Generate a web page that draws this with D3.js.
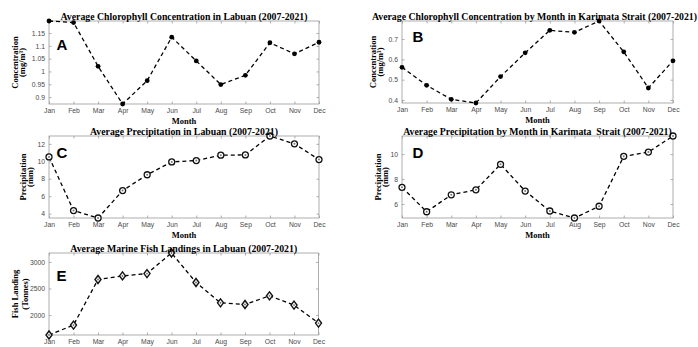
<!DOCTYPE html>
<html>
<head>
<meta charset="utf-8">
<script src="https://cdn.jsdelivr.net/npm/d3@7/dist/d3.min.js"></script>
<style>
  html, body { margin: 0; padding: 0; background: #fff; }
  svg { display: block; }
</style>
</head>
<body>
<svg id="chart" width="698" height="347"></svg>
<script>
// Monthly climatology, 2007-2021
const months = ["Jan","Feb","Mar","Apr","May","Jun","Jul","Aug","Sep","Oct","Nov","Dec"];

const chlLabuan      = [1.197, 1.191, 1.020, 0.873, 0.964, 1.134, 1.041, 0.949, 0.985, 1.112, 1.069, 1.114];
const chlKarimata    = [0.561, 0.472, 0.403, 0.385, 0.515, 0.632, 0.743, 0.733, 0.789, 0.637, 0.459, 0.593];
const precipLabuan   = [10.5, 4.35, 3.5, 6.64, 8.46, 9.93, 10.08, 10.7, 10.73, 12.9, 12.0, 10.2];
const precipKarimata = [7.34, 5.38, 6.74, 7.14, 9.18, 7.04, 5.44, 4.88, 5.82, 9.82, 10.16, 11.45];
const fishLabuan     = [1625, 1812, 2670, 2737, 2782, 3169, 2614, 2231, 2200, 2362, 2188, 1850];

const ticksChlLabuan      = ["0.9", "0.95", "1", "1.05", "1.1", "1.15"];
const ticksChlKarimata    = ["0.4", "0.5", "0.6", "0.7"];
const ticksPrecipLabuan   = ["4", "6", "8", "10", "12"];
const ticksPrecipKarimata = ["6", "8", "10"];
const ticksFishLabuan     = ["2000", "2500", "3000"];

const W = 698;
const svg = d3.select("#chart");

const panels = [
  { letter: "A", values: chlLabuan, ticks: ticksChlLabuan, marker: "dot",
    title: "Average Chlorophyll Concentration in Labuan (2007-2021)",
    ylabel: ["Concentration", "(mg/m\u00B3)"], ylabelX: [15.5, 22],
    box: [49, 21, 319, 104], xlabel: true, letterPos: [56.5, 50] },
  { letter: "B", values: chlKarimata, ticks: ticksChlKarimata, marker: "dot",
    title: "Average Chlorophyll Concentration by Month in Karimata Strait (2007-2021)",
    ylabel: ["Concentration", "(mg/m\u00B3)"], ylabelX: [373.5, 380],
    box: [402, 21, 673, 103], xlabel: true, letterPos: [412.5, 41.7] },
  { letter: "C", values: precipLabuan, ticks: ticksPrecipLabuan, marker: "circle",
    title: "Average Precipitation in Labuan (2007-2021)",
    ylabel: ["Precipitation", "(mm)"], ylabelX: [23, 30.5],
    box: [49, 136, 319, 218], xlabel: true, letterPos: [56.5, 158] },
  { letter: "D", values: precipKarimata, ticks: ticksPrecipKarimata, marker: "circle",
    title: "Average Precipitation by Month in Karimata\u00A0 Strait (2007-2021)",
    ylabel: ["Precipitation", "(mm)"], ylabelX: [378.5, 385],
    box: [402, 136, 673, 218], xlabel: true, letterPos: [412.5, 158] },
  { letter: "E", values: fishLabuan, ticks: ticksFishLabuan, marker: "diamond",
    title: "Average Marine Fish Landings in Labuan (2007-2021)",
    ylabel: ["Fish Landing", "(Tonnes)"], ylabelX: [15.5, 25],
    box: [49, 253, 318.5, 335], xlabel: false, letterPos: [56.5, 281] }
];

const axisColor = "#9a9a9a";
const tickTextColor = "#4a4a4a";
const serif = "'Liberation Serif', 'Times New Roman', serif";
const sans = "'Liberation Sans', Arial, sans-serif";

panels.forEach(p => {
  const [x0, y0, x1, y1] = p.box;
  const x = d3.scalePoint().domain(months).range([x0, x1]);
  const y = d3.scaleLinear().domain(d3.extent(p.values)).range([y1, y0]);
  const tickVals = p.ticks.map(Number);

  const g = svg.append("g");

  // axis frame
  g.append("rect")
    .attr("x", x0).attr("y", y0)
    .attr("width", x1 - x0).attr("height", y1 - y0)
    .attr("fill", "none").attr("stroke", axisColor).attr("stroke-width", 0.8);

  const styleAxis = sel => {
    sel.select(".domain").remove();
    sel.selectAll(".tick line").attr("stroke", axisColor).attr("stroke-width", 0.8);
    sel.selectAll(".tick text")
      .attr("fill", tickTextColor)
      .style("font-family", sans)
      .style("font-size", "6.8px");
  };

  g.append("g").attr("transform", `translate(0,${y1})`)
    .call(d3.axisBottom(x).tickSize(-2.5).tickPadding(4))
    .call(styleAxis);
  g.append("g").attr("transform", `translate(0,${y0})`)
    .call(d3.axisTop(x).tickSize(-2.5).tickFormat(""))
    .call(styleAxis);
  g.append("g").attr("transform", `translate(${x0},0)`)
    .call(d3.axisLeft(y).tickValues(tickVals).tickFormat((d, i) => p.ticks[i]).tickSize(-2.5).tickPadding(4))
    .call(styleAxis);
  g.append("g").attr("transform", `translate(${x1},0)`)
    .call(d3.axisRight(y).tickValues(tickVals).tickFormat("").tickSize(-2.5))
    .call(styleAxis);

  // dashed series line
  const line = d3.line().x((d, i) => x(months[i])).y(d => y(d));
  g.append("path")
    .datum(p.values)
    .attr("d", line)
    .attr("fill", "none")
    .attr("stroke", "#000")
    .attr("stroke-width", 1.3)
    .attr("stroke-dasharray", "4,3");

  // markers
  const pts = g.append("g").selectAll("g").data(p.values).join("g")
    .attr("transform", (d, i) => `translate(${x(months[i])},${y(d)})`);
  if (p.marker === "dot") {
    pts.append("circle").attr("r", 2.4).attr("fill", "#000");
  } else if (p.marker === "circle") {
    pts.append("circle").attr("r", 3).attr("fill", "#fff")
      .attr("stroke", "#111").attr("stroke-width", 1.3);
    pts.append("circle").attr("r", 1).attr("fill", "#777");
  } else {
    pts.append("path")
      .attr("d", "M0,-4L3,0L0,4L-3,0Z")
      .attr("fill", "#fff").attr("stroke", "#111").attr("stroke-width", 1.4);
    pts.append("circle").attr("r", 0.9).attr("fill", "#666");
  }

  // title, centred over the axes but kept inside the page
  const title = g.append("text")
    .attr("y", y0 - 1.5)
    .attr("text-anchor", "middle")
    .style("font-family", serif).style("font-weight", "bold").style("font-size", "9.8px")
    .text(p.title);
  const tw = title.node().getComputedTextLength();
  title.attr("x", Math.min((x0 + x1) / 2, W - 1 - tw / 2));

  // x axis label
  if (p.xlabel) {
    g.append("text")
      .attr("x", (x0 + x1) / 2).attr("y", y1 + 19.5)
      .attr("text-anchor", "middle")
      .style("font-family", serif).style("font-weight", "bold").style("font-size", "8.5px")
      .text("Month");
  }

  // y axis label, two lines
  const cy = (y0 + y1) / 2;
  p.ylabel.forEach((t, i) => {
    g.append("text")
      .attr("transform", `translate(${p.ylabelX[i]},${cy}) rotate(-90)`)
      .attr("text-anchor", "middle")
      .attr("dy", "0.35em")
      .style("font-family", serif).style("font-weight", "bold").style("font-size", "8.5px")
      .text(t);
  });

  // panel letter
  g.append("text")
    .attr("x", p.letterPos[0]).attr("y", p.letterPos[1])
    .style("font-family", sans).style("font-weight", "bold").style("font-size", "15px")
    .text(p.letter);
});
</script>
</body>
</html>
